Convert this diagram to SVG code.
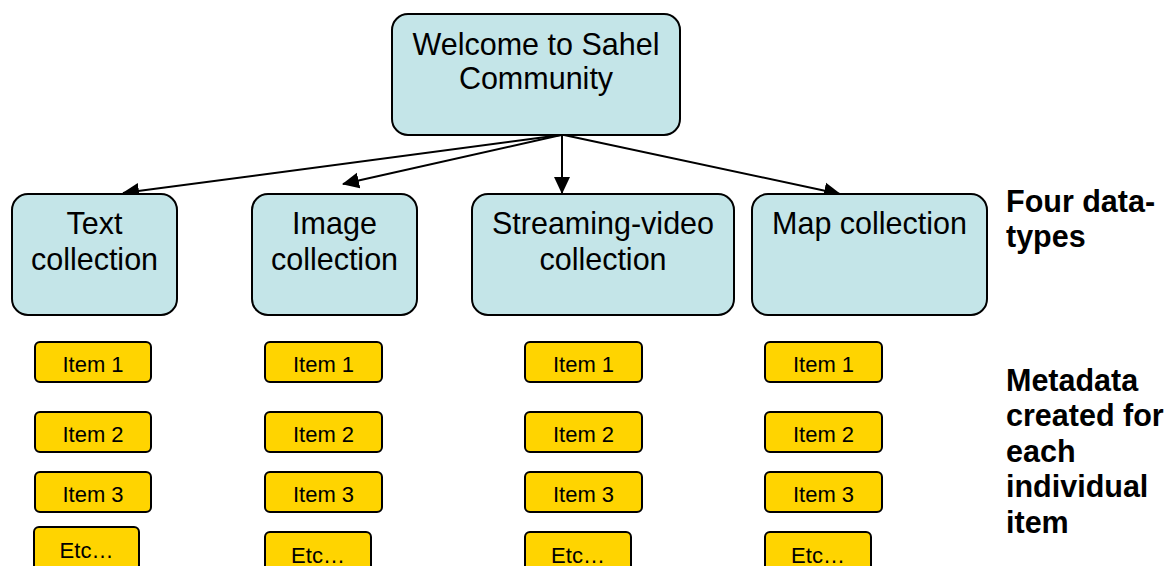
<svg xmlns="http://www.w3.org/2000/svg" width="1168" height="566" viewBox="0 0 1168 566">
<style>
.coll{fill:#c4e5e8;stroke:#000;stroke-width:2}
.item{fill:#ffd400;stroke:#000;stroke-width:2}
.big{font-family:"Liberation Sans",Arial,sans-serif;font-size:30.5px;fill:#000;text-anchor:middle}
.sm{font-family:"Liberation Sans",Arial,sans-serif;font-size:22px;fill:#000;text-anchor:middle}
.lbl{font-family:"Liberation Sans",Arial,sans-serif;font-size:30.5px;font-weight:bold;fill:#000}
.conn{stroke:#000;stroke-width:2;fill:none;marker-end:url(#ah)}
</style>
<defs>
<marker id="ah" markerUnits="userSpaceOnUse" markerWidth="17" markerHeight="17" viewBox="0 0 17 16" refX="16" refY="8" orient="auto">
<path d="M0,0 L17,8 L0,16 Z" fill="#000"/>
</marker>
</defs>
<rect width="1168" height="566" fill="#fff"/>
<g id="connectors">
<line class="conn" x1="561" y1="135" x2="123" y2="193"/>
<line class="conn" x1="561" y1="135" x2="343" y2="184"/>
<line class="conn" x1="562" y1="135" x2="562" y2="193"/>
<line class="conn" x1="564" y1="135" x2="840" y2="194"/>
</g>
<g id="root">
<rect class="coll" x="392" y="14" width="288" height="121" rx="16"/>
<text class="big" x="536" y="55">Welcome to Sahel</text>
<text class="big" x="536" y="89">Community</text>
</g>
<g id="text-collection">
<rect class="coll" x="12" y="194" width="165" height="121" rx="16"/>
<text class="big" x="94.5" y="234">Text</text>
<text class="big" x="94.5" y="270">collection</text>
</g>
<g id="image-collection">
<rect class="coll" x="252" y="194" width="165" height="121" rx="16"/>
<text class="big" x="334.5" y="234">Image</text>
<text class="big" x="334.5" y="270">collection</text>
</g>
<g id="video-collection">
<rect class="coll" x="472" y="194" width="262" height="121" rx="16"/>
<text class="big" x="603" y="234">Streaming-video</text>
<text class="big" x="603" y="270">collection</text>
</g>
<g id="map-collection">
<rect class="coll" x="752" y="194" width="235" height="121" rx="16"/>
<text class="big" x="869.5" y="234">Map collection</text>
</g>
<g id="label-types">
<text class="lbl" x="1006" y="212">Four data-</text>
<text class="lbl" x="1006" y="247">types</text>
</g>
<g id="label-metadata">
<text class="lbl" x="1006" y="391">Metadata</text>
<text class="lbl" x="1006" y="426">created for</text>
<text class="lbl" x="1006" y="462">each</text>
<text class="lbl" x="1006" y="497">individual</text>
<text class="lbl" x="1006" y="533">item</text>
</g>
<g id="col1-item1"><rect class="item" x="35" y="342" width="116" height="40" rx="5"/><text class="sm" x="93" y="371.5">Item 1</text></g>
<g id="col1-item2"><rect class="item" x="35" y="412" width="116" height="40" rx="5"/><text class="sm" x="93" y="441.5">Item 2</text></g>
<g id="col1-item3"><rect class="item" x="35" y="472" width="116" height="40" rx="5"/><text class="sm" x="93" y="501.5">Item 3</text></g>
<g id="col1-etc"><rect class="item" x="34" y="527" width="105" height="48" rx="5"/><text class="sm" x="86.5" y="558">Etc…</text></g>
<g id="col2-item1"><rect class="item" x="265" y="342" width="117" height="40" rx="5"/><text class="sm" x="323.5" y="371.5">Item 1</text></g>
<g id="col2-item2"><rect class="item" x="265" y="412" width="117" height="40" rx="5"/><text class="sm" x="323.5" y="441.5">Item 2</text></g>
<g id="col2-item3"><rect class="item" x="265" y="472" width="117" height="40" rx="5"/><text class="sm" x="323.5" y="501.5">Item 3</text></g>
<g id="col2-etc"><rect class="item" x="265" y="532" width="106" height="48" rx="5"/><text class="sm" x="318" y="563">Etc…</text></g>
<g id="col3-item1"><rect class="item" x="525" y="342" width="117" height="40" rx="5"/><text class="sm" x="583.5" y="371.5">Item 1</text></g>
<g id="col3-item2"><rect class="item" x="525" y="412" width="117" height="40" rx="5"/><text class="sm" x="583.5" y="441.5">Item 2</text></g>
<g id="col3-item3"><rect class="item" x="525" y="472" width="117" height="40" rx="5"/><text class="sm" x="583.5" y="501.5">Item 3</text></g>
<g id="col3-etc"><rect class="item" x="525" y="532" width="106" height="48" rx="5"/><text class="sm" x="578" y="563">Etc…</text></g>
<g id="col4-item1"><rect class="item" x="765" y="342" width="117" height="40" rx="5"/><text class="sm" x="823.5" y="371.5">Item 1</text></g>
<g id="col4-item2"><rect class="item" x="765" y="412" width="117" height="40" rx="5"/><text class="sm" x="823.5" y="441.5">Item 2</text></g>
<g id="col4-item3"><rect class="item" x="765" y="472" width="117" height="40" rx="5"/><text class="sm" x="823.5" y="501.5">Item 3</text></g>
<g id="col4-etc"><rect class="item" x="765" y="532" width="106" height="48" rx="5"/><text class="sm" x="818" y="563">Etc…</text></g>
</svg>
